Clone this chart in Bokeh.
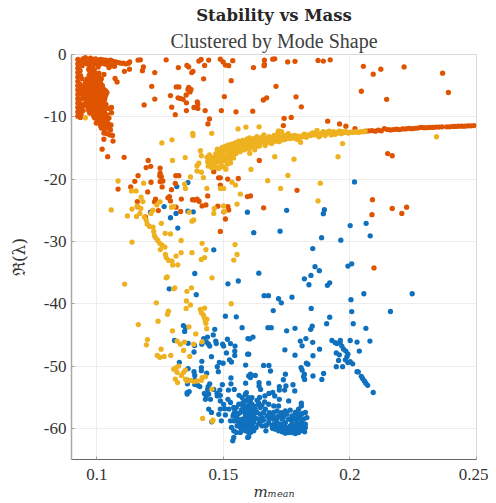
from bokeh.plotting import figure
from bokeh.models import FixedTicker, Title
from bokeh.embed import file_html
from bokeh.resources import INLINE

x_tick_values = [0.1, 0.15, 0.2, 0.25]
x_tick_labels = ["0.1", "0.15", "0.2", "0.25"]
y_tick_values = [0, -10, -20, -30, -40, -50, -60]
y_tick_labels = ["0", "-10", "-20", "-30", "-40", "-50", "-60"]

orange_band = [(.0925,-.8),(.0925,-1.5),(.0925,-2.2),(.0925,-2.9),(.0925,-3.6),(.0925,-4.3),(.0925,-5),(.0925,-5.7),(.0925,-6.4),(.0925,-7.1),(.0925,-7.8),(.0925,-8.5),(.0925,-9.2),(.0925,-9.9),
(.0932,-1.1),(.0934,-2.6),(.0936,-3.4),(.0934,-4.8),(.0936,-5.6),(.0938,-6.3),(.0936,-7.2),(.0938,-8),(.0936,-8.8),(.0938,-9.6),(.0935,-10.1),(.0942,-5.1),(.0944,-6),(.0944,-7),(.0946,-8.2),(.0946,-9),(.0942,-3.9)]
orange_top = [(.0945,-.7),(.0955,-.5),(.0965,-.9),(.0975,-.6),(.0985,-.8),(.0995,-.7),(.1005,-.9),(.1015,-.8),(.1025,-.85),(.1035,-.9),(.1045,-1),(.1055,-.9),(.1065,-1.1),(.1075,-1.2),(.1085,-1.3),(.1095,-1.4),(.1105,-1.4),(.1115,-1.5),(.1125,-1.4),(.113,-1.2),
(.095,-1.3),(.096,-1.5),(.097,-1.6),(.098,-1.3),(.099,-1.5),(.1,-1.4),(.101,-1.6),(.102,-1.4),(.103,-1.5),(.104,-1.6),(.105,-1.7),(.106,-1.8),(.107,-1.9),(.1005,-2),(.1048,-2.1),(.0942,-1.8),(.0972,-2.1),(.0985,-2.2),(.099,-2.6)]
orange_blob = [(.0968,-2.4),(.0978,-2.8),(.0988,-3.1),(.0998,-3.2),(.1008,-3),(.097,-3.3),(.098,-3.7),(.099,-3.9),(.1,-3.9),(.101,-3.7),(.1018,-3.9),
(.0962,-3.9),(.0955,-4.5),(.0966,-4.4),(.0976,-4.6),(.0988,-4.7),(.0998,-4.6),(.1008,-4.6),(.1016,-4.7),(.1022,-5),
(.0952,-5.3),(.0962,-5.2),(.0972,-5.4),(.0984,-5.5),(.0995,-5.4),(.1006,-5.4),(.1018,-5.5),(.1028,-5.6),(.1034,-5.8),
(.0948,-6.1),(.0958,-6.2),(.0968,-6.2),(.0979,-6.3),(.099,-6.2),(.1,-6.3),(.1012,-6.2),(.1024,-6.4),(.1036,-6.4),(.104,-6.1),
(.0952,-7),(.0962,-7.1),(.0974,-7),(.0985,-7.1),(.0996,-7),(.1008,-7.2),(.102,-7),(.1031,-7.2),
(.0955,-7.8),(.0966,-7.9),(.0978,-7.8),(.099,-7.9),(.1002,-7.8),(.1014,-7.9),(.1026,-7.8),(.1036,-8),
(.0966,-8.6),(.0978,-8.7),(.099,-8.6),(.1002,-8.7),(.1014,-8.6),(.1026,-8.8),(.1036,-8.6),
(.0972,-9.4),(.0984,-9.5),(.0996,-9.4),(.1008,-9.5),(.102,-9.5),(.103,-9.3),(.104,-9.7),
(.0992,-10.2),(.1002,-10.3),(.1014,-10.2),(.1026,-10.3),(.1038,-10.4),(.1048,-10.2),
(.0998,-11),(.1008,-11),(.102,-11.1),(.1032,-11),(.1044,-11.1),(.1056,-11.3),
(.1018,-11.8),(.103,-11.9),(.1042,-11.8),(.1054,-12.1),(.1028,-12.6),(.104,-12.7),(.1052,-12.9),(.1062,-13)]
orange_fill = [(.0974,-2.9),(.0994,-3.5),(.1004,-3.4),(.0984,-3.4),(.0975,-4),(.0985,-4.2),(.0995,-4.2),(.1005,-4.2),(.1014,-4.2),(.0958,-4.8),(.097,-4.9),(.098,-5),(.0992,-5),(.1002,-5),(.1012,-5),
(.0956,-5.7),(.0966,-5.8),(.0977,-5.9),(.0988,-5.85),(.0998,-5.85),(.1009,-5.85),(.102,-5.9),(.103,-6),(.0955,-6.6),(.0965,-6.65),(.0976,-6.65),(.0987,-6.7),(.0998,-6.65),(.101,-6.7),(.1022,-6.7),(.1033,-6.8),
(.0958,-7.4),(.0969,-7.45),(.098,-7.45),(.0992,-7.5),(.1004,-7.45),(.1016,-7.5),(.1028,-7.5),(.096,-8.2),(.0972,-8.25),(.0984,-8.25),(.0996,-8.25),(.1008,-8.3),(.102,-8.25),(.1032,-8.3),
(.0968,-9),(.098,-9.05),(.0992,-9.05),(.1004,-9.1),(.1016,-9.1),(.1028,-9.1),(.0988,-9.9),(.1,-9.9),(.1012,-9.9),(.1024,-9.9),(.1036,-10),(.1005,-10.7),(.1017,-10.7),(.1029,-10.7),(.1041,-10.75),(.1015,-11.45),(.1027,-11.5),(.1039,-11.5),(.1051,-11.6)]
orange_scatter = [(.1072,-3.85),(.108,-4.4),(.1028,-3.2),(.1109,-2.7),(.1129,-2.35),(.1058,-8.5),(.1058,-9.35),(.1047,-8.65),(.1028,-13.6),(.1064,-13.9),(.1021,-15.2),(.1043,-16.4),(.1108,-16.5),
(.1163,-.9),(.1172,-.85),(.1184,-2),(.118,-2.6),(.1229,-2.9),(.1274,-.85),(.1322,-2.1),(.1356,-1.75),(.1363,-2),(.1375,-2.9),(.138,-2.7),(.1403,-1.05),(.1412,-.8),(.1442,-.9),(.1426,-1.75),(.1422,-3.9),(.1488,-.75),(.1499,-1.2),(.1508,-1.7),(.1521,-1.8),(.1537,-1),(.1531,-4.2),
(.1217,-5.1),(.1229,-7.15),(.1187,-8.1),(.1291,-6.6),(.1314,-5.2),(.1324,-5.2),(.1363,-5.3),(.1372,-5.6),(.1368,-6),(.136,-5.6),(.1353,-6.5),(.1321,-6.95),(.133,-7.05),(.1341,-7.2),(.1354,-7.75),(.1296,-8.45),(.1354,-9),(.131,-9.65),(.1384,-8.5),(.1399,-8.65),(.1397,-7.6),(.1399,-8),(.1428,-9),(.1504,-6.75),(.1492,-9),(.155,-9.2),(.1445,-10.35),(.1439,-11.15),
(.1619,-2.1),(.1662,-.9),(.1662,-1.6),(.1661,-1.8),(.1695,-.75),(.1703,-.7),(.1754,-1.2),(.1783,-1.1),(.1874,-.95),(.1895,-1.05),(.1922,-.85),(.2053,-1.9),(.2092,-3.15),(.2122,-2.35),(.2214,-2),(.2366,-3),(.2389,-6.1),(.2045,-5.9),(.2145,-7.2),(.1708,-5.1),(.1658,-7.3),(.1671,-6.95),(.1787,-6.8),(.1808,-8.4),(.1616,-9.1),(.174,-10.25),(.1768,-10.1),(.1737,-11.4),(.1912,-10.7),(.1959,-11.15),(.1984,-11.5),(.202,-11.9),
(.2149,-15.9),(.2167,-16.25),(.1642,-17),(.1607,-22.7),(.1659,-24.6),(.1791,-21.8),(.2089,-23.3),(.2167,-24.7),(.2224,-24.5),(.2205,-25.5),(.2087,-25.7),(.2095,-34.25),
(.1203,-17),(.1213,-17.95),(.1195,-18.15),(.125,-18.25),(.125,-19.05),(.1249,-19.5),(.1255,-19.6),(.1261,-20.3),(.125,-20.4),(.1163,-19.45),(.115,-20.35),(.1134,-21.25),(.1084,-21.6),(.1214,-20.5),(.1201,-22.05),(.1258,-21.25),(.1312,-19.45),(.1324,-19.45),(.131,-20.7),(.1295,-21.7),(.1287,-22.8),(.1281,-23),(.1291,-23.5),(.1334,-23.2),(.1232,-23.2),(.1228,-23.65),(.116,-23.6),(.1161,-24.45),(.1243,-25.05),(.1192,-26.05),(.1313,-24.5),(.1331,-25.2),(.1378,-23.3),(.1387,-23.35),(.1396,-23.2),(.1404,-23.55),(.1416,-24.3),(.1431,-24.15),(.1438,-22.7),(.1462,-18.8),(.1481,-19.8),(.1488,-19.8),(.1517,-20),(.1559,-19.9),(.1488,-20.95),(.1478,-24.35),(.1502,-25.25),(.1508,-26.4),(.1518,-24.4),(.1521,-24.95),(.1488,-28.4),(.1595,-22.8),(.1529,-15.4)]
orange_streak = [(.2063,-12.3),(.2075,-12.25),(.2087,-12.2),(.21,-12.3),(.2112,-12.15),(.2124,-12.25),(.2136,-11.9),(.2148,-12.05),(.216,-12.1),(.2172,-12.05),(.2184,-12),(.2196,-12.05),(.2208,-11.95),(.222,-11.95),(.2232,-11.85),(.2244,-11.9),(.2256,-11.85),(.2268,-11.8),(.228,-11.7),(.2292,-11.75),(.2304,-11.75),(.2316,-11.7),(.2328,-11.7),(.234,-11.65),(.2352,-11.65),(.2364,-11.6),(.2382,-11.6),(.2394,-11.6),(.2406,-11.55),(.2418,-11.55),(.243,-11.5),(.2442,-11.5),(.2454,-11.5),(.2466,-11.45),(.2478,-11.45),(.249,-11.4)]

yellow_band = [(.1435,-16.5),(.1438,-17.2),(.144,-17.9),(.1445,-16.1),(.1448,-16.9),(.1452,-17.6),(.1455,-18.2),(.1458,-16.5),(.1462,-17.1),(.1466,-17.8),(.147,-15.9),(.1472,-16.6),(.1474,-18.1),(.1476,-15.2),(.1478,-17.2),(.148,-16),(.1482,-18.3),(.1485,-16.8),(.1488,-15.5),(.149,-17.5),(.1493,-16.2),(.1495,-14.9),(.1497,-18),(.15,-15.6),(.1502,-17),(.1505,-16.4),(.1508,-14.7),(.151,-18.4),(.1512,-15.3),(.1515,-17.6),(.1518,-16.1),(.152,-14.5),(.1523,-15.5),(.1526,-16.8),(.1528,-17.4),(.153,-15.1),(.1533,-14.4),(.1536,-16),(.1538,-14.9),(.154,-16.6),(.1543,-15.5),(.1546,-14.2),(.155,-15.9),(.1553,-14.7),(.1556,-15.2),(.156,-13.9),(.1563,-14.8),(.1566,-15.6),(.157,-14.2),(.1573,-15),(.1576,-13.8),(.158,-14.5),(.1583,-15.3),(.1586,-14),(.159,-14.7),(.1593,-13.6),(.1596,-15.1),(.16,-14.2),(.1603,-13.4),(.1606,-15),(.161,-14.6),(.1613,-13.9),(.1616,-14.5),(.162,-13.5),(.1624,-15.3),(.1628,-14.2),(.1632,-13.2),(.1636,-14.7),(.164,-13.8),(.1645,-14.3),(.165,-13.3),(.1655,-14),(.166,-12.9),(.1665,-14.6),(.167,-13.6),(.1675,-14.1),(.168,-13.2),(.1685,-13.9),(.169,-14.3),(.1695,-13.5),(.17,-13),(.1705,-13.9),(.171,-13.4),(.1715,-12.6),(.172,-14),(.1725,-13.2),(.173,-12.4),(.1735,-13.7),(.174,-13),(.1745,-13.6),(.175,-13.2),(.1756,-12.7),(.1762,-13.5),(.1768,-13.1),(.1775,-13.4),(.1782,-13),(.179,-13.6),(.1797,-13.1),(.1805,-14.1),(.1812,-13.2),(.182,-12.8),(.1828,-13.3),(.1836,-12.9),(.1845,-13),(.1853,-12.6),(.1862,-12.9),(.187,-12.2),(.1878,-13.2),(.1886,-12.7),(.1894,-12.4),(.1902,-13),(.191,-12.6),(.1918,-12.3),(.1926,-12.9),(.1934,-12.4),(.1942,-12.8),(.195,-12.6),(.1958,-12.3),(.1966,-12.7),(.1975,-12.5),(.1984,-12.4),(.1993,-12.6),(.2002,-12.45),(.2012,-12.5),(.2022,-12.4),(.2032,-12.5),(.2042,-12.4),(.2052,-12.4),(.206,-12.3)]
yellow_fill = [(.1468,-16.9),(.1486,-16.1),(.1498,-16.5),(.1506,-15.3),(.1515,-15),(.1522,-15.9),(.1516,-16.8),(.1532,-15.9),(.1532,-16.6),(.1545,-14.9),(.1548,-15.3),(.1556,-14.3),(.1564,-14.2),(.1572,-14.7),(.158,-14),(.1588,-14.4),(.1598,-13.8),(.1606,-14),(.1612,-14.3),(.1622,-14.6),(.163,-13.7),(.1642,-14.7),(.165,-13.8),(.1658,-13.5),(.1668,-14.1),(.1678,-13.7),(.1688,-13.4),(.1698,-14),(.1708,-13.2),(.1718,-13.4),(.1728,-13.7),(.1738,-13.3),(.1748,-13),(.1758,-13.2),(.1772,-13.1),(.1786,-13.3),(.18,-13.4),(.1815,-13),(.183,-13),(.1848,-12.7),(.1866,-12.6),(.1884,-12.9),(.1905,-12.5),(.1925,-12.6),(.1945,-12.5),(.197,-12.4),(.199,-12.5)]
yellow_scatter = [(.0955,-10.15),(.1084,-20.3),(.1057,-24.95),(.1121,-25.9),(.1139,-24.8),(.1137,-21.9),(.1155,-21.9),(.1185,-20.65),(.1175,-22.9),(.1182,-23.6),(.1159,-24.35),(.1174,-24.7),(.1157,-26),(.117,-25.5),(.1221,-25),(.1214,-25.5),(.1237,-24.15),(.125,-23.65),(.1295,-24.5),(.1303,-24.4),(.1257,-14.2),(.1297,-13.7),(.1299,-17),(.1349,-16.55),(.137,-19.65),(.1379,-12.65),(.138,-13),(.1454,-12.65),(.1558,-11.95),(.1589,-11.65),
(.1333,-29.85),(.1416,-30.3),(.1546,-30.5),(.1255,-27.1),(.127,-28.7),(.1291,-28.8),(.1139,-30.1),(.1383,-26.55),(.1376,-26.75),(.1365,-25.3),(.1347,-20.8),(.135,-21.5),
(.1409,-15.45),(.1413,-16.25),(.1396,-17.85),(.1403,-17.45),(.1396,-18.7),(.1413,-18.9),(.1421,-19.75),(.1435,-21.5),(.1464,-24.7),(.1462,-25.5),(.1501,-24.3),(.1504,-25.2),(.1554,-24),(.1501,-21.5),(.1488,-21.5),(.1548,-20.95),(.1534,-20.5),(.1567,-22.4),
(.1641,-11.6),(.1718,-12.25),(.1703,-16.4),(.1779,-16.8),(.1609,-18.45),(.1755,-19.4),(.1675,-20.25),(.1726,-21.5),(.1883,-20.65),(.1874,-23.5),(.1953,-16.4),(.1971,-14.3),(.2342,-13.2),(.1604,-15.85),
(.1188,-26.1),(.1195,-26.55),(.1199,-27.2),(.1208,-27.6),(.1222,-27.7),(.1225,-28.4),(.1228,-29.1),(.1234,-29.5),(.1241,-29.85),(.1249,-30.3),(.1258,-30.6),(.1269,-30.9),
(.1251,-31.3),(.1271,-32.1),(.1274,-32.6),(.1284,-33.05),(.1297,-33.15),(.13,-33.8),(.132,-33.75),(.1313,-32.35),(.1333,-31.8),(.1376,-31.8),(.1413,-32.9),(.1426,-32.6),(.1431,-31.3),(.1541,-33),(.1554,-32.1),(.1455,-35.85),(.1274,-35.85),(.1278,-35.7),(.111,-36.85),(.1304,-37.6),(.1308,-37.45),(.1356,-38),(.1374,-37.45),(.1354,-39.55),(.137,-40.2),(.1353,-40.75),(.1235,-39.85),(.1531,-40),
(.1409,-40.9),(.1426,-40.7),(.1413,-41.45),(.1421,-41.8),(.1425,-42.25),(.1435,-42.5),(.1429,-42.8),(.1431,-43.15),(.1283,-41.2),(.1279,-41.7),(.1242,-42.8),(.1164,-43.35),(.1299,-44.35),(.1364,-43.7),(.1391,-44.85),(.1434,-44),(.1416,-46.1),(.12,-45.75),(.1196,-46.6),(.1254,-47.3),(.1239,-48.3),(.1249,-48.6),(.1266,-48.45),(.1292,-48.3),(.1317,-46),(.133,-46.5),(.1346,-46.15),(.1343,-47.5),(.1367,-48.45),(.1383,-46.5),
(.1304,-50.5),(.1314,-50.25),(.1323,-50),(.1317,-51),(.1334,-51.5),(.1343,-51),(.135,-50.65),(.131,-52.1),(.1319,-52.65),(.135,-52.1),(.1356,-52.4),(.137,-52.3),(.1383,-52.5),(.1396,-52.4),(.1416,-51.85),(.1429,-51.7),(.1413,-52.3),(.1455,-53.7),(.1418,-58.4),(.1459,-58.7),(.1456,-58.85)]

blue_scatter = [(.1316,-21.2),(.136,-20.55),(.1212,-25.3),(.1266,-24.4),(.1313,-25.5),(.1291,-26.2),(.132,-27.85),(.136,-25.15),(.1381,-25.25),(.1595,-25.3),(.1462,-31.35),(.175,-25),(.1899,-24.9),(.1895,-25.55),(.162,-28.6),(.1724,-28.35),(.1888,-29.4),(.1964,-29.8),(.2001,-27.45),(.2064,-27.1),(.208,-29.1),(.2018,-20.45),(.1853,-31.15),
(.164,-35.1),(.1661,-38.7),(.1678,-38.7),(.1718,-39.2),(.1729,-39.85),(.1771,-38.95),(.1697,-41.1),(.1676,-43.85),(.1689,-43.85),(.175,-44.35),(.1783,-43.95),(.182,-36),(.1846,-35.45),(.1862,-34.05),(.1879,-34.7),(.1838,-36.95),(.1911,-37.05),(.192,-36.65),(.1847,-40.75),(.192,-42.15),(.1908,-43.2),(.1851,-43.6),(.1845,-44.1),(.1992,-33.95),(.2007,-33.6),(.2055,-38.4),(.2246,-38.4),(.2004,-39.35),(.2007,-41.25),(.216,-41.25),(.2013,-43.2),(.2063,-43.95),
(.1617,-45.35),(.1604,-45.65),(.1804,-46),(.1826,-45.6),(.1811,-46.75),(.1853,-46.2),(.1743,-47.4),(.188,-47.3),(.1783,-48.25),(.1854,-48.35),(.1929,-45.9),(.1942,-46.25),(.1949,-46.4),(.1962,-45.9),(.1961,-46.25),(.1968,-46.8),(.1975,-47.3),(.1984,-47.6),(.1992,-48.1),(.1988,-48.5),(.1946,-47.9),(.1958,-48.2),(.1955,-49.1),(.1982,-49),(.1992,-49.45),(.2001,-49.3),(.2011,-49.65),(.1946,-50.1),(.1971,-50.1),(.2001,-45.9),(.2028,-46.15),(.2079,-46),(.2037,-47.6),(.2028,-50.9),(.2033,-50.95),(.2045,-51.65),(.205,-52),(.2057,-52.4),(.2063,-52.75),(.207,-53.1),(.2092,-54.25),
(.1659,-49.9),(.168,-49.9),(.1686,-50.8),(.1607,-51.3),(.1626,-51.5),(.1607,-51.85),(.16,-48.1),(.1807,-50.25),(.1811,-50.65),(.1828,-49.55),(.1834,-49.7),(.182,-51.3),(.1817,-51.7),(.1821,-52.15),(.1854,-51.6),(.1896,-51.2),(.1889,-52.15),(.1745,-51.3),(.1737,-52.2),(.1679,-52.75),(.1775,-53),(.1641,-52.65),(.1721,-53.3),(.1721,-53.85),(.1747,-53.2),(.1742,-53.85),(.1782,-54),(.1641,-53.2),(.1647,-53.75),(.168,-54.4),(.1695,-54.25),(.1664,-54.8),(.1643,-55.05),(.1703,-54.8),(.1758,-55.6),(.1721,-55.35),
(.1387,-35.15),(.1518,-36.8),(.1559,-36.35),(.1286,-37.6),(.1393,-38.55),(.1508,-42),(.1551,-42.1),(.1574,-43.85),(.1342,-43.5),(.135,-43.85),(.1347,-44.45),(.1466,-44.1),(.146,-45),(.1437,-45.35),(.1422,-45.6),(.147,-46),(.1472,-46.4),(.1497,-46.5),(.1501,-46.8),(.1516,-45.7),(.1528,-46.4),(.1546,-46.8),(.1545,-47.6),(.1545,-48.3),(.1512,-47.9),(.1597,-45.6),(.1596,-48.1),(.1307,-45.9),(.1361,-46.35),(.1386,-46.7),(.1384,-47.75),(.1415,-46.5),(.1433,-46.15),(.1441,-46.45),(.1446,-46.8),(.1453,-48.5),(.1326,-49.4),(.1415,-49.25),(.1484,-49.4),(.1499,-49.55),(.1476,-50.1),(.148,-50.9),(.1524,-49),(.1532,-49.35),(.1588,-49.85),(.1361,-50.4),(.1384,-50.9),(.1413,-50.25),(.1413,-50.75),(.1434,-51.15),(.1387,-51.5),(.1358,-52.25),(.1358,-52.85),(.1387,-52.25),(.1387,-52.95),(.1399,-53.1),(.1407,-53.3),(.1357,-54.25),(.1357,-54.5),(.1365,-54.1),(.153,-51.9),(.153,-52.85),(.1496,-53),(.1446,-52.85),(.144,-53.3),(.1438,-53.75),(.1425,-54.4),(.1432,-54.8),(.1442,-54.5),(.1462,-53.75),(.1486,-53.85),(.152,-53.85),(.1543,-53.75),(.1588,-52.75),(.16,-51.6),(.1475,-54.4),(.1488,-54.7),(.1476,-54.8),(.1449,-55.35),(.1429,-55.35),(.1442,-56.9),(.1453,-57.45),(.1454,-58.95),(.1488,-55.6),(.1501,-56.15),(.1518,-55.35),(.1528,-55.85),(.1505,-56.85),(.1488,-56.9),(.1482,-57.75),(.1508,-57.85),(.1522,-56.9),(.1541,-56.65),(.1562,-54.7),(.1492,-58.8),(.1528,-58.8),(.1532,-59.85),(.1541,-60.4),(.1537,-62),(.1541,-61.45),(.1551,-60.65),(.1567,-60.65),(.1587,-59.6),(.1596,-61.45)]
blue_dense = [(.1541,-57.73),(.1554,-58.27),(.1567,-57.46),(.158,-56.93),(.1591,-56.4),(.1596,-55.33),(.1587,-54.53),(.1574,-55.06),(.1561,-56.13),(.1551,-56.66),(.1547,-58.8),(.1561,-59.07),(.1574,-58.53),(.1587,-58),(.1596,-57.46),(.158,-59.33),(.1567,-59.87),(.1554,-59.6),(.1596,-58.8),(.1596,-59.87),(.1587,-60.4),(.16,-60.67),(.1577,-55.86),(.1591,-54.26),(.16,-56.4),(.16,-58.53),(.1541,-58.8),(.1538,-58),
(.1679,-56.13),(.1699,-56.4),(.1718,-56.4),(.1639,-55.86),(.1663,-55.76),(.162,-56.4),(.1607,-55.33),(.1607,-55.86),(.16,-56.66),(.1613,-57.46),(.1626,-56.93),(.1646,-56.66),(.1666,-56.93),(.1682,-57.46),(.1699,-57.46),(.1712,-57.2),(.1729,-57.46),(.1745,-57.2),(.1764,-57.09),(.1797,-56.93),(.1808,-55.97),(.1808,-56.4),(.1824,-57.46),(.183,-58.27),(.1824,-59.33),(.1824,-59.87),(.1821,-60.56),(.1804,-60.4),(.1797,-60.67),(.1784,-60.83),(.1771,-60.67),(.1758,-60.67),(.1745,-60.78),(.1732,-60.56),(.1718,-60.4),(.1705,-60.14),(.1692,-59.6),(.1679,-59.07),(.1666,-59.6),(.1668,-60.4),(.1653,-58.27),(.1639,-58.53),(.1629,-59.87),(.162,-59.07),(.1607,-58),(.16,-59.07),(.1607,-60.67),(.16,-61.36),
(.1718,-58),(.1732,-58.53),(.1745,-59.07),(.1758,-58.53),(.1771,-58),(.1784,-57.46),(.1797,-58),(.1791,-58.8),(.1804,-59.33),(.181,-59.87),(.1778,-59.87),(.1764,-59.6),(.1751,-59.87),(.1738,-59.6),(.1725,-59.33),(.1712,-59.07),(.1699,-58.53),(.1686,-58.27),(.1672,-58),(.1659,-57.46),(.1646,-57.73),(.1633,-57.46),(.162,-58),(.1613,-58.53),(.1791,-57.46),(.18,-57.73),(.1705,-58.27),(.1692,-57.89),(.1732,-57.73),(.1751,-57.73),(.1778,-58.53),(.1758,-60.14),(.1784,-60.14),(.1797,-59.6),(.181,-59.07),(.1738,-60.14),(.1718,-59.87),(.1699,-59.33),
(.16,-55.06),(.1613,-55.06),(.16,-55.6),(.1613,-56.13),(.16,-57.46),(.16,-58),(.1607,-58.53),(.1613,-59.6),(.16,-59.87),(.162,-60.4),(.1639,-59.33),(.1653,-59.6),(.1633,-55.5),(.1652,-56.3)]
blue_fill = [(.1545,-57.2),(.156,-57.6),(.1572,-57),(.1585,-57.4),(.1575,-56.2),(.1585,-55.6),(.1592,-57),(.1558,-58.6),(.157,-59.2),(.1582,-58.6),(.1592,-59.3),(.1575,-60),(.1605,-56.9),(.1612,-57),(.1605,-59.4),(.1615,-60),(.1625,-57.5),(.1628,-58.4),(.1638,-56.2),(.1645,-58.9),(.1658,-58.7),(.167,-59.5),(.168,-58.6),(.1694,-60),(.1708,-59.7),(.172,-59.8),(.1727,-60.2),(.1742,-59.2),(.1748,-60.4),(.1765,-60.3),(.1772,-59.3),(.1786,-59.4),(.1795,-60.3),(.1812,-60.2),(.1817,-58.5),(.1812,-57.6),(.1768,-58.7),(.1738,-58.2),(.1712,-58.4),(.1785,-58.3),(.1805,-58.4)]

def xs(points):
    return [pt[0] for pt in points]

def ys(points):
    return [pt[1] for pt in points]

p = figure(width=488, height=503, x_range=(0.09, 0.25), y_range=(-65, 0),
           output_backend="svg", toolbar_location=None,
           min_border_left=71, min_border_right=12, min_border_top=54, min_border_bottom=43)
p.background_fill_color = "white"
p.border_fill_color = "white"
p.outline_line_color = "#d9d9d9"
p.outline_line_width = 1

p.add_layout(Title(text="Clustered by Mode Shape", align="center", text_font="Liberation Serif",
                   text_font_size="20px", text_font_style="normal", text_color="#404040", standoff=6, offset=0), "above")
p.add_layout(Title(text="Stability vs Mass", align="center", text_font="DejaVu Serif",
                   text_font_size="16.5px", text_font_style="bold", text_color="#262626", standoff=0), "above")

for ax in (p.xaxis[0], p.yaxis[0]):
    ax.major_tick_in = 3
    ax.major_tick_out = 0
    ax.minor_tick_line_color = None
    ax.major_label_text_font = "Liberation Serif"
    ax.major_label_text_font_size = "17px"
    ax.major_label_text_color = "#333333"
    ax.major_tick_line_color = "#a0a0a0"
p.xaxis[0].axis_line_color = "#666666"
p.yaxis[0].axis_line_color = "#a8a8a8"
p.yaxis[0].axis_line_width = 1.5
p.xaxis[0].ticker = FixedTicker(ticks=x_tick_values)
p.yaxis[0].ticker = FixedTicker(ticks=y_tick_values)
p.xaxis[0].major_label_overrides = dict(zip(x_tick_values, x_tick_labels))
p.yaxis[0].major_label_overrides = dict(zip(y_tick_values, y_tick_labels))
p.xaxis[0].major_label_standoff = 9
p.yaxis[0].major_label_standoff = 5

p.yaxis[0].axis_label = "\u211c(\u03bb)"
p.yaxis[0].axis_label_text_font = "DejaVu Serif"
p.yaxis[0].axis_label_text_font_style = "normal"
p.yaxis[0].axis_label_text_font_size = "17px"
p.yaxis[0].axis_label_text_color = "#333333"
p.yaxis[0].axis_label_standoff = 12
p.xaxis[0].axis_label = "m\u2098\u2091\u2090\u2099"
p.xaxis[0].axis_label_text_font = "DejaVu Serif"
p.xaxis[0].axis_label_text_font_style = "italic"
p.xaxis[0].axis_label_text_font_size = "15px"
p.xaxis[0].axis_label_text_color = "#333333"
p.xaxis[0].axis_label_standoff = 0

p.grid.grid_line_color = "#ededed"
p.grid.grid_line_width = 1

blue = "#0F71BE"
orange = "#DF5400"
yellow = "#EEB11F"
blue_all = blue_scatter + blue_dense + blue_fill
orange_all = orange_band + orange_top + orange_blob + orange_fill + orange_scatter + orange_streak
yellow_all = yellow_band + yellow_fill + yellow_scatter
p.scatter(xs(blue_all), ys(blue_all), size=5.3, color=blue, line_width=0)
p.scatter(xs(orange_all), ys(orange_all), size=5.3, color=orange, line_width=0)
p.scatter(xs(yellow_all), ys(yellow_all), size=5.3, color=yellow, line_width=0)

open("out.html", "w").write(file_html(p, INLINE))
